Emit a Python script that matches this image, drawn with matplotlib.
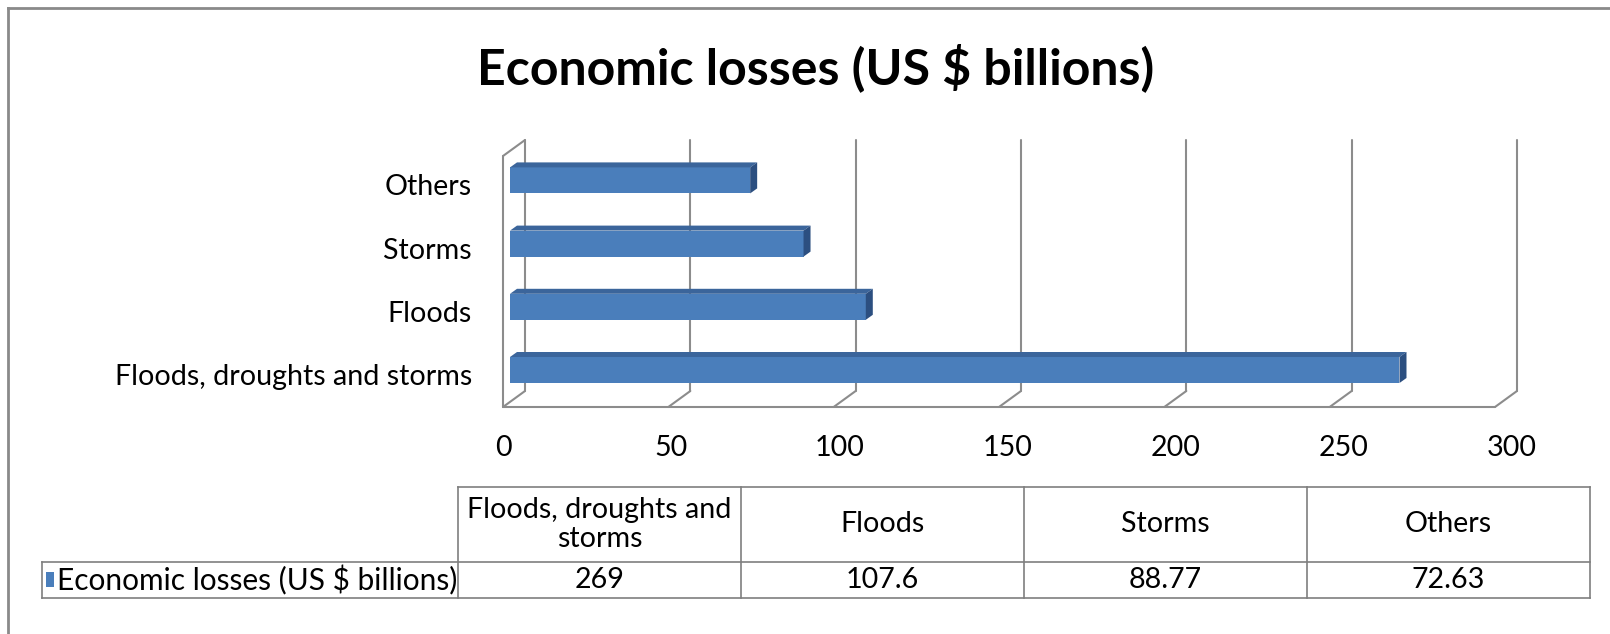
import numpy as np
import matplotlib
matplotlib.use('Agg')
import matplotlib.pyplot as plt
from matplotlib.patches import Polygon, Rectangle

categories = ['Floods, droughts and storms', 'Floods', 'Storms', 'Others']
header_labels = ['Floods, droughts and\nstorms', 'Floods', 'Storms', 'Others']
losses = [269, 107.6, 88.77, 72.63]
series_name = 'Economic losses (US $ billions)'
xticks = [0, 50, 100, 150, 200, 250, 300]

plt.rcParams['font.family'] = ['Lato', 'DejaVu Sans']

W, H = 1610, 634
fig = plt.figure(figsize=(W / 100, H / 100), dpi=100)
fig.patch.set_facecolor('white')

def fx(px):
    return px / W

def fy(py):
    return 1 - py / H

# colours
c_front = '#4a7ebb'
c_top = '#3b659b'
c_side = '#2c4f80'
c_grid = '#8c8c8c'

# bar plane: value 0 at px 510, 300 at px 1502, categories 63.2 px apart
x0, x300 = 510, 1502
row0, step = 370, 63.2
ax = fig.add_axes([fx(x0), fy(412), fx(x300) - fx(x0), fy(135) - fy(412)])
ax.set_xlim(0, 300)
ax.set_ylim((row0 - 412) / step, (row0 - 135) / step)
ax.patch.set_alpha(0)
ax.set_zorder(2)
for s in ax.spines.values():
    s.set_visible(False)
ax.set_xticks([])
ax.set_yticks([])

sx = (x300 - x0) / 300

def d(px, py):
    # pixel offset -> data offset (py positive = up)
    return px / sx, py / step

back = d(15, 11)
front = d(-7, -5)
depth = d(7, 5)
floor = (row0 - 402) / step
top = (row0 - 151) / step
lw = 1.5
kw = dict(color=c_grid, lw=lw, zorder=1, clip_on=False, solid_capstyle='round')

# walls and gridlines
for t in xticks:
    ax.plot([t + back[0]] * 2, [floor + back[1], top + back[1]], **kw)
    ax.plot([t + front[0], t + back[0]], [floor + front[1], floor + back[1]], **kw)
ax.plot([xticks[0] + front[0], xticks[-1] + front[0]], [floor + front[1]] * 2, **kw)
ax.plot([front[0]] * 2, [floor + front[1], top + front[1]], **kw)
ax.plot([front[0], back[0]], [top + front[1], top + back[1]], **kw)

# bars
ypos = np.arange(len(categories))
h = 26 / step
ax.barh(ypos, losses, height=h, color=c_front, zorder=3)
for y, v in zip(ypos, losses):
    yt, yb = y + h / 2, y - h / 2
    ax.add_patch(Polygon([(0, yt), (v, yt), (v + depth[0], yt + depth[1]), (depth[0], yt + depth[1])],
                         closed=True, facecolor=c_top, edgecolor='none', zorder=3, clip_on=False))
    ax.add_patch(Polygon([(v, yb), (v, yt), (v + depth[0], yt + depth[1]), (v + depth[0], yb + depth[1])],
                         closed=True, facecolor=c_side, edgecolor='none', zorder=3, clip_on=False))

# category labels
for y, lab in zip(ypos, categories):
    ax.text((472 - x0) / sx, y - 7 / step, lab, ha='right', va='center', fontsize=20.6, color='black')

# value labels (spread slightly wider than the floor, as in the source)
for t in xticks:
    ax.text(t * 1.017 + front[0], floor + front[1] - 41 / step, str(t), ha='center', va='center',
            fontsize=20.6, color='black')

# overlay in pixel coordinates: frame, title, data table
ov = fig.add_axes([0, 0, 1, 1])
ov.set_xlim(0, W)
ov.set_ylim(H, 0)
ov.axis('off')
ov.set_zorder(1)

ov.plot([8, 8], [8, H], color='#8a8a8a', lw=2)
ov.plot([8, W], [8, 8], color='#8a8a8a', lw=2)

ov.text(816, 68, series_name, ha='center', va='center', fontsize=36, fontweight='bold')

cols = np.linspace(458, 1590, len(categories) + 1)
r_top, r_mid, r_bot = 487, 562, 598
tc = '#7f7f7f'
tkw = dict(color=tc, lw=1.2)
ov.plot([cols[0], cols[-1]], [r_top, r_top], **tkw)
ov.plot([42, cols[-1]], [r_mid, r_mid], **tkw)
ov.plot([42, cols[-1]], [r_bot, r_bot], **tkw)
ov.plot([42, 42], [r_mid, r_bot], **tkw)
for c in cols:
    ov.plot([c, c], [r_top, r_bot], **tkw)
for i, (lab, v) in enumerate(zip(header_labels, losses)):
    cx = (cols[i] + cols[i + 1]) / 2
    ov.text(cx, (r_top + r_mid) / 2, lab, ha='center', va='center', fontsize=20.6, linespacing=1.15)
    ov.text(cx, (r_mid + r_bot) / 2, f'{v:g}', ha='center', va='center', fontsize=20.6)
ov.add_patch(Rectangle((46, 572), 8, 15, facecolor=c_front, edgecolor='none'))
ov.text(57, (r_mid + r_bot) / 2, series_name, ha='left', va='center', fontsize=21.5)

fig.savefig('out.png', dpi=100, facecolor='white')
